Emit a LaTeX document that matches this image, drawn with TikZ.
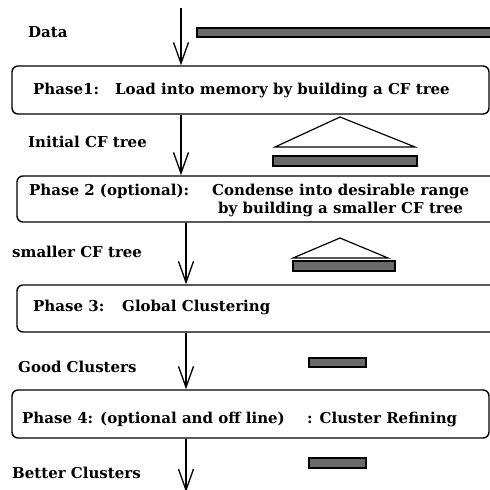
\documentclass[tikz,border=0pt]{standalone}
\usepackage{fontspec}
\setmainfont{DejaVu Serif}
\usetikzlibrary{arrows.meta}
\newcommand{\stretchtxt}[1]{\scalebox{1.0}[1]{#1}}
\definecolor{bargray}{HTML}{6A6A6A}
\tikzset{
  phasebox/.style={draw, line width=1.4pt, rounded corners=6pt, inner sep=0pt},
  lbl/.style={anchor=base west, inner sep=0pt, font=\rmfamily\bfseries\fontsize{15}{18}\selectfont},
  flow/.style={line width=1.3pt, -{Straight Barb[length=21pt,width=15pt,line width=1.3pt]}},
  databar/.style={draw, line width=1.1pt, fill=bargray},
  treeline/.style={line width=1.2pt, line join=miter},
}
\begin{document}
\begin{tikzpicture}[x=1pt,y=-1pt]
\clip (0,0) rectangle (490,490);

% processing phases
\node[phasebox, minimum width=477pt, minimum height=48pt] (p1) at (250.5,90) {};
\node[phasebox, minimum width=484pt, minimum height=46pt] (p2) at (259,199) {};
\node[phasebox, minimum width=484pt, minimum height=47pt] (p3) at (259,308.5) {};
\node[phasebox, minimum width=477pt, minimum height=48pt] (p4) at (250.5,414) {};

% phase texts
\node[lbl] (t1a) at (33,94) {\stretchtxt{Phase1:}};
\node[lbl] (t1b) at (115,94) {\stretchtxt{Load into memory by building a CF tree}};
\node[lbl] (t2a) at (29,195) {\stretchtxt{Phase 2 (optional):}};
\node[lbl] (t2b) at (212,195) {\stretchtxt{Condense into desirable range}};
\node[lbl] (t2c) at (218,213) {\stretchtxt{by building a smaller CF tree}};
\node[lbl] (t3a) at (33,311) {\stretchtxt{Phase 3:}};
\node[lbl] (t3b) at (122,311) {\stretchtxt{Global Clustering}};
\node[lbl] (t4a) at (22,423) {\stretchtxt{Phase 4: (optional and off line)}};
\node[lbl] (t4b) at (307,423) {\stretchtxt{: Cluster Refining}};

% intermediate results
\node[lbl] (r0) at (28,37) {\stretchtxt{Data}};
\node[lbl] (r1) at (28,147) {\stretchtxt{Initial CF tree}};
\node[lbl] (r2) at (12,257) {\stretchtxt{smaller CF tree}};
\node[lbl] (r3) at (18,372) {\stretchtxt{Good Clusters}};
\node[lbl] (r4) at (12,478) {\stretchtxt{Better Clusters}};

% data flow
\coordinate (in) at (181,8);
\coordinate (mid) at (186,250);
\coordinate (out) at (186,492);
\draw[flow] (in) -- (in |- p1.north);
\draw[flow] (p1.south -| in) -- (p2.north -| in);
\draw[flow] (p2.south -| mid) -- (p3.north -| mid);
\draw[flow] (p3.south -| mid) -- (p4.north -| mid);
\draw[flow] (p4.south -| out) -- (out);

% data sketches
\draw[databar] (197,28) rectangle (500,37);
\draw[treeline] (275,147) -- (340,117) -- (415,147) -- cycle;
\draw[databar] (273,156) rectangle (417,166);
\draw[treeline] (293,258) -- (340,238) -- (388,258) -- cycle;
\draw[databar] (293,261) rectangle (395,271);
\draw[databar] (309,358) rectangle (366,367);
\draw[databar] (309,458) rectangle (366,468);
\end{tikzpicture}
\end{document}
